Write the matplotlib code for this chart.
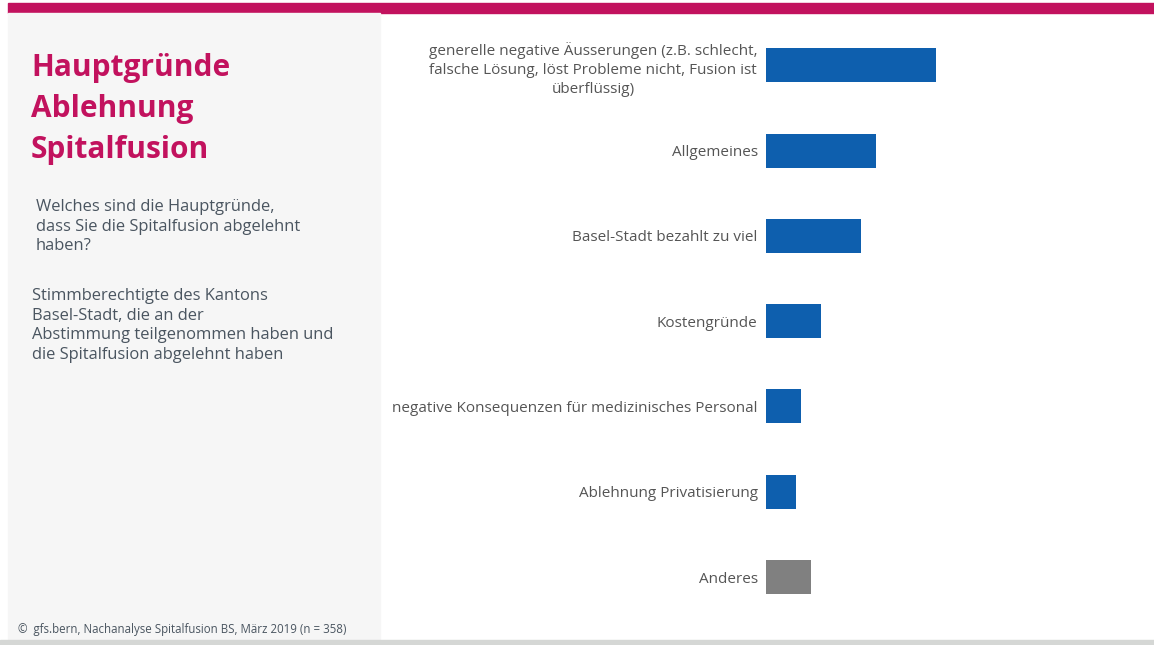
import matplotlib.pyplot as plt
from matplotlib.patches import Rectangle

# Gründe für die Ablehnung (Anteil in %)
categories = [
    "generelle negative Äusserungen (z.B. schlecht,\nfalsche Lösung, löst Probleme nicht, Fusion ist\nüberflüssig)",
    "Allgemeines",
    "Basel-Stadt bezahlt zu viel",
    "Kostengründe",
    "negative Konsequenzen für medizinisches Personal",
    "Ablehnung Privatisierung",
    "Anderes",
]
values = [34, 22, 19, 11, 7, 6, 9]
bar_colors = ["#0E5FAE"] * 6 + ["#808080"]

title = "Hauptgründe\nAblehnung\nSpitalfusion"
question = "Welches sind die Hauptgründe,\ndass Sie die Spitalfusion abgelehnt\nhaben?"
basis = ("Stimmberechtigte des Kantons\nBasel-Stadt, die an der\n"
         "Abstimmung teilgenommen haben und\ndie Spitalfusion abgelehnt haben")
source = "©  gfs.bern, Nachanalyse Spitalfusion BS, März 2019 (n = 358)"

W, H = 1154, 645
fig = plt.figure(figsize=(W / 100, H / 100), dpi=100)
plt.rcParams['font.family'] = ['Open Sans', 'DejaVu Sans']

def fx(px):
    return px / W

def fy(py):
    return 1 - py / H

# Rahmen: Kopfbalken, graues Seitenfeld, Fussleiste
fig.patches.append(Rectangle((fx(8), fy(13)), fx(W - 8), 10 / H,
                             transform=fig.transFigure, color="#C2125E", zorder=0))
fig.patches.append(Rectangle((fx(8), fy(640)), fx(372), 627 / H,
                             transform=fig.transFigure, color="#F6F6F6", zorder=0))
fig.patches.append(Rectangle((0, 0), 1, 5 / H,
                             transform=fig.transFigure, color="#D5D7D5", zorder=0))

fig.text(fx(31), fy(53), title, color="#C2125E", fontsize=21.5, fontweight="bold",
         va="top", ha="left", linespacing=1.47)
fig.text(fx(36), fy(199), question, color="#4A5560", fontsize=11.9,
         va="top", ha="left", linespacing=1.3)
fig.text(fx(32), fy(288), basis, color="#4A5560", fontsize=11.9,
         va="top", ha="left", linespacing=1.3)
fig.text(fx(18), fy(630), source, color="#4A5560", fontsize=8.3,
         va="center", ha="left")

# Balkendiagramm
ax_left, ax_right = 766, 1140
top, bottom = 22.65, 619.65
ax = fig.add_axes([fx(ax_left), fy(bottom), fx(ax_right - ax_left), (bottom - top) / H])
ypos = list(range(len(categories)))
ax.barh(ypos, values, height=0.4, color=bar_colors)
ax.set_ylim(len(categories) - 0.5, -0.5)
ax.set_xlim(0, (ax_right - ax_left) / 5)
ax.set_yticks(ypos)
ax.set_yticklabels(categories, fontsize=11, color="#555555")
for lbl in ax.get_yticklabels():
    lbl.set_multialignment("center")
    lbl.set_linespacing(1.38)
ax.tick_params(axis="y", length=0, pad=6)
ax.set_xticks([])
for s in ax.spines.values():
    s.set_visible(False)
ax.patch.set_alpha(0)

fig.savefig("out.png", dpi=100)
